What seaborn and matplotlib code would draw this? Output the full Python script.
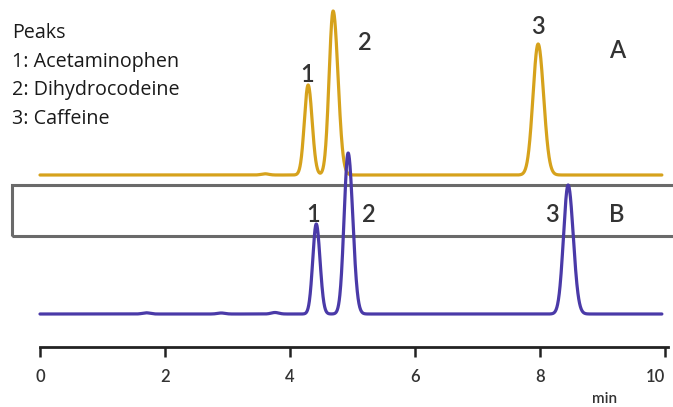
import numpy as np
import pandas as pd
import matplotlib
matplotlib.use("Agg")
import matplotlib.pyplot as plt
import seaborn as sns
from matplotlib.patches import Rectangle

# ---------------- data ----------------
peak_ids = ["1", "2", "3"]
legend_lines = ["Peaks", "1: Acetaminophen", "2: Dihydrocodeine", "3: Caffeine"]

# trace A (orange)
a_times = [4.29, 4.69, 7.97]           # min
a_heights = [90, 164, 131]             # signal units
a_sig_left = [0.060, 0.064, 0.082]
a_sig_right = [0.064, 0.078, 0.088]
a_small_times = [3.60]
a_small_heights = [1.2]

# trace B (purple)
b_times = [4.42, 4.93, 8.45]
b_heights = [90, 161, 129]
b_sig_left = [0.056, 0.064, 0.074]
b_sig_right = [0.060, 0.074, 0.082]
b_small_times = [1.70, 2.90, 3.76]
b_small_heights = [1.2, 1.0, 1.5]

xticks = [0, 2, 4, 6, 8, 10]
xtick_labels = ["0", "2", "4", "6", "8", "10"]
x_unit = "min"
trace_names = ["A", "B"]

# ---------------- figure geometry ----------------
W, H, DPI = 673, 407, 100
PX_PER_MIN = 62.5
X0_PX = 40


def px_x(px):
    return (px - X0_PX) / PX_PER_MIN


def px_y(py):
    return H - py


def trace(t, base, times, heights, sl, sr, st, sh):
    y = np.full_like(t, base, dtype=float)
    for c, h, s1, s2 in zip(times, heights, sl, sr):
        s = np.where(t < c, s1, s2)
        y += h * np.exp(-0.5 * ((t - c) / s) ** 2)
    for c, h in zip(st, sh):
        y += h * np.exp(-0.5 * ((t - c) / 0.06) ** 2)
    return y


t = np.linspace(0, 9.95, 3000)
base_a = px_y(175)
base_b = px_y(314)
ya = trace(t, base_a, a_times, a_heights, a_sig_left, a_sig_right, a_small_times, a_small_heights)
yb = trace(t, base_b, b_times, b_heights, b_sig_left, b_sig_right, b_small_times, b_small_heights)
df = pd.concat([
    pd.DataFrame({"t": t, "signal": ya, "trace": "A"}),
    pd.DataFrame({"t": t, "signal": yb, "trace": "B"}),
])

sns.set_style("white")
plt.rcParams["font.family"] = ["Open Sans", "DejaVu Sans"]

fig = plt.figure(figsize=(W / DPI, H / DPI), dpi=DPI)
ax = fig.add_axes([0, 0, 1, 1])
ax.set_xlim(px_x(0), px_x(W))
ax.set_ylim(0, H)

# box around the B trace label band
rect = Rectangle((px_x(12), px_y(236)), px_x(700) - px_x(12), px_y(185) - px_y(236),
                 fill=False, edgecolor="#6a6a6a", linewidth=2.2, zorder=1)
ax.add_patch(rect)

sns.lineplot(data=df, x="t", y="signal", hue="trace", palette={"A": "#d6a21c", "B": "#4a3aa8"},
             ax=ax, legend=False, linewidth=2.3, sort=False, estimator=None, zorder=3)

# axis
for s in ["top", "right", "left"]:
    ax.spines[s].set_visible(False)
ax.spines["bottom"].set_position(("data", px_y(347)))
ax.spines["bottom"].set_bounds(0, 10.05)
ax.spines["bottom"].set_linewidth(2.0)
ax.spines["bottom"].set_color("#222222")
ax.set_yticks([])
ax.set_xticks(xticks)
ax.set_xticklabels(xtick_labels, fontfamily=["Lato", "DejaVu Sans"], fontsize=12,
                   fontweight="semibold", color="#333333")
ax.tick_params(axis="x", direction="out", length=7, width=1.8, color="#222222", pad=9, bottom=True)
ax.get_xticklabels()[-1].set_horizontalalignment("right")
ax.set_xlabel("")
ax.set_ylabel("")
ax.text(px_x(605), px_y(399), x_unit, ha="center", va="center", fontsize=11, fontweight="semibold",
        fontfamily=["Lato", "DejaVu Sans"], color="#333333")

# legend text
for i, line in enumerate(legend_lines):
    ax.text(px_x(12), px_y(33 + 28.5 * i), line, ha="left", va="center", fontsize=14.2, color="#1a1a1a")

# peak labels
lab_font = dict(fontsize=17, fontfamily=["Lato", "DejaVu Sans"], fontweight="semibold",
                color="#333333", ha="center", va="center")
a_lab_pos = [(307, 75), (365, 43), (538, 27)]
b_lab_pos = [(313, 215), (369, 215), (552, 215)]
for pid, (x, y) in zip(peak_ids, a_lab_pos):
    ax.text(px_x(x), px_y(y), pid, **lab_font)
for pid, (x, y) in zip(peak_ids, b_lab_pos):
    ax.text(px_x(x), px_y(y), pid, **lab_font)
ax.text(px_x(617), px_y(50), trace_names[0], **lab_font)
ax.text(px_x(617), px_y(215), trace_names[1], **lab_font)

fig.savefig("out.png", dpi=DPI)
